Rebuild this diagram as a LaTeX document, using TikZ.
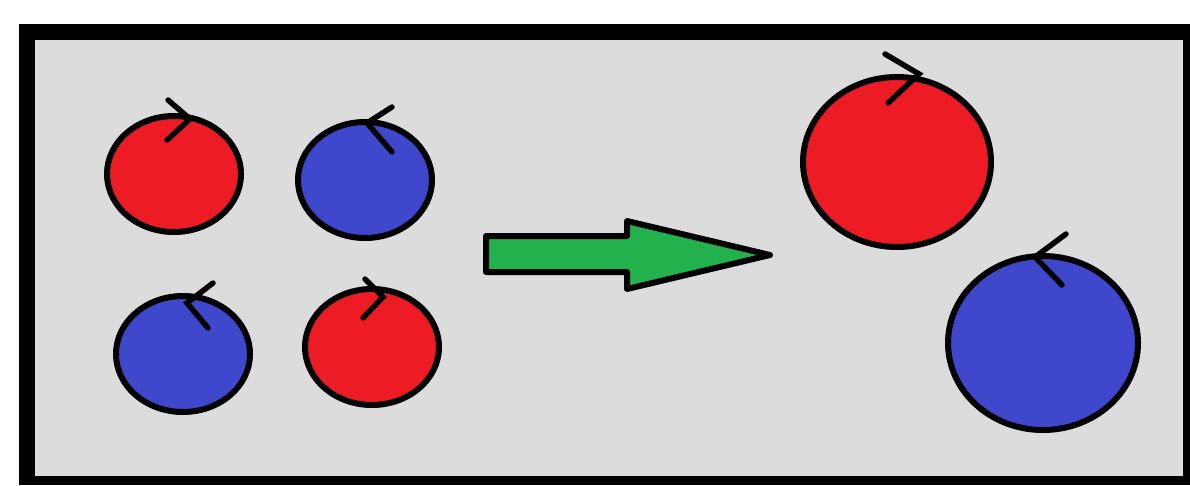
\documentclass[tikz,border=0pt]{standalone}
\definecolor{paintred}{RGB}{237,28,36}
\definecolor{paintblue}{RGB}{63,72,204}
\definecolor{paintgreen}{RGB}{34,177,76}
\definecolor{panelgray}{RGB}{220,220,220}
\tikzset{
  ball/.style={draw=black, line width=6pt},
  redball/.style={ball, fill=paintred},
  blueball/.style={ball, fill=paintblue},
  spinmark/.style={draw=black, line width=5.5pt, line cap=round, line join=miter},
  bigarrow/.style={draw=black, fill=paintgreen, line width=6pt, line join=round}
}
\begin{document}
\begin{tikzpicture}[x=1pt,y=-1pt]
\useasboundingbox (0,0) rectangle (1190,485);
\fill[white] (0,0) rectangle (1190,485);
% frame
\fill[black] (19,24) rectangle (1190,485);
\fill[panelgray] (35,40) rectangle (1183,476);
% small balls
\path[redball]  (174,174) ellipse [x radius=67, y radius=58];
\path[blueball] (365,180) ellipse [x radius=67, y radius=58];
\path[blueball] (183,354) ellipse [x radius=67, y radius=58];
\path[redball]  (372,347) ellipse [x radius=67, y radius=58];
% spin marks small
\draw[spinmark] (168,100) -- (190,119) -- (167,140);
\draw[spinmark] (392,107) -- (367,123) -- (392,152);
\draw[spinmark] (213,283) -- (187,303) -- (208,328);
\draw[spinmark] (365,279) -- (383,297) -- (363,318);
% arrow
\path[bigarrow] (486,236) -- (627,236) -- (627,221) -- (770,255) -- (627,289) -- (627,272) -- (486,272) -- cycle;
% big balls
\path[redball]  (897,162) ellipse [x radius=94, y radius=85];
\path[blueball] (1043,343) ellipse [x radius=95, y radius=87];
\draw[spinmark] (885,54) -- (919,74) -- (888,103);
\draw[spinmark] (1066,234) -- (1035,257) -- (1062,285);
\end{tikzpicture}
\end{document}
